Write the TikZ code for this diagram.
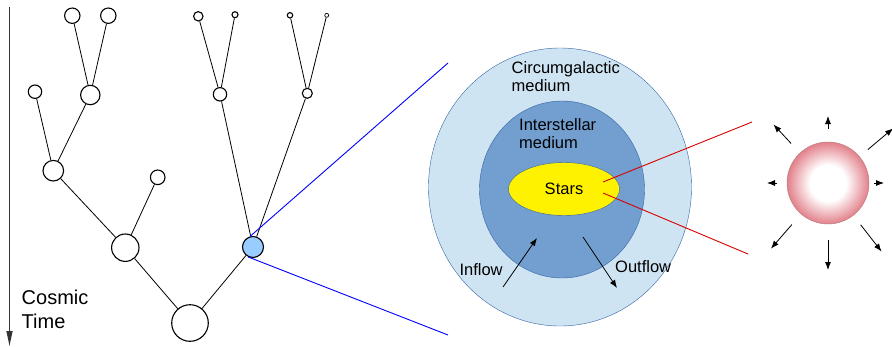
\documentclass[tikz,border=0pt]{standalone}
\usepackage{fontspec}
\setmainfont{Liberation Sans}
\usetikzlibrary{arrows.meta,shapes.geometric}
\definecolor{cgm}{HTML}{CFE4F2}
\definecolor{ism}{HTML}{729FCF}
\definecolor{rim}{HTML}{3465A4}
\definecolor{halo}{HTML}{99CCFF}
\definecolor{rose}{RGB}{226,128,138}
\pgfdeclareradialshading{sunball}{\pgfpoint{0bp}{0bp}}{color(0bp)=(white);color(11bp)=(white);color(25bp)=(rose);color(50bp)=(rose)}

\begin{document}
\begin{tikzpicture}[x=1pt,y=-1pt,
 gal/.style={draw,circle,line width=1.1pt,fill=white,inner sep=0pt,minimum size=#1},
 br/.style={line width=.8pt},
 lab/.style={font=\fontsize{16.5}{18.5}\selectfont,inner sep=0pt,align=left},
 tip/.style={-{Latex[length=8pt,width=6pt]},line width=.8pt}]
\useasboundingbox(0,0)rectangle(892,346);
% merger tree
\node[gal=36.6pt](r)at(190,323){};\node[gal=27.4pt](a)at(125.3,247.7){};\node[gal=21pt,fill=halo](g)at(253,247){};
\node[gal=20.6pt](b)at(53.3,170.7){};\node[gal=14.6pt](c)at(157.7,177.3){};
\node[gal=19.4pt](d)at(90.3,95){};\node[gal=13.4pt](e)at(35,91.7){};
\node[gal=15.4pt](f1)at(72.3,15.7){};\node[gal=15.4pt](f2)at(108.3,15.7){};
\node[gal=13.4pt](h)at(220,94.3){};\node[gal=9.4pt](h1)at(198.3,16.3){};\node[gal=6pt](h2)at(235,14.7){};
\node[gal=10pt](k)at(307.3,93.3){};\node[gal=5.4pt](k1)at(290,15.3){};\node[gal=4pt,line width=.7pt](k2)at(326.7,15.3){};
\foreach\u/\v in {r/a,r/g,a/b,a/c,b/e,b/d,d/f1,d/f2,g/h,g/k,h/h1,h/h2,k/k1,k/k2}\draw[br](\u)--(\v);
% time axis
\coordinate(t0)at(9.5,7);\coordinate(t1)at(9.5,346);
\draw[-{Triangle[length=15pt,width=6pt]},line width=1.2pt,black!80](t0)--(t1);
\node[anchor=north west,font=\fontsize{20}{24}\selectfont,inner sep=0pt,align=left](ct)at(21.5,289.5){Cosmic\\Time};
% zoom lines
\coordinate(z0)at(448,63);\coordinate(z1)at(448,335);
\draw[blue,line width=.9pt](g.105)--(z0)(g.245)--(z1);
% galaxy
\node[ellipse,draw=rim,fill=cgm,minimum width=263pt,minimum height=278pt](cg)at(560,187){};
\node[ellipse,draw=rim,fill=ism,minimum width=165pt,minimum height=177pt](is)at(562,189.5){};
\node[lab,ellipse,draw=rim,fill=yellow,minimum width=111pt,minimum height=53pt](st)at(564,189){Stars};
\node[lab,anchor=north west](cl)at(511.5,61.3){Circumgalactic\\medium};
\node[lab,anchor=north west](il)at(519,118){Interstellar\\medium};
\node[lab,anchor=base west](in)at(459.3,275){Inflow};
\node[lab,anchor=base west](out)at(615,272.7){Outflow};
\coordinate(i0)at(503,287);\coordinate(i1)at(537,238);\draw[tip](i0)--(i1);
\coordinate(o0)at(583,237);\coordinate(o1)at(617,288);\draw[tip](o0)--(o1);
% star
\coordinate(s0)at(603,182);\coordinate(s1)at(752,122);\coordinate(s2)at(603,193);\coordinate(s3)at(748,254);
\draw[red!85!black,line width=.9pt](s0)--(s1)(s2)--(s3);
\node[circle,minimum size=82pt,inner sep=0pt,shading=sunball,draw=rose!60!gray,line width=.5pt](sun)at(828,183){};
\foreach\a/\d/\l in {90/54/13,133/54/26,40/52/33,180/51/10,0/46/10,229/55/32,270/57/30,308/53/34}
 \draw[tip]([shift={(\a:\d pt)}]sun.center)--++(\a:\l pt);
\end{tikzpicture}
\end{document}
